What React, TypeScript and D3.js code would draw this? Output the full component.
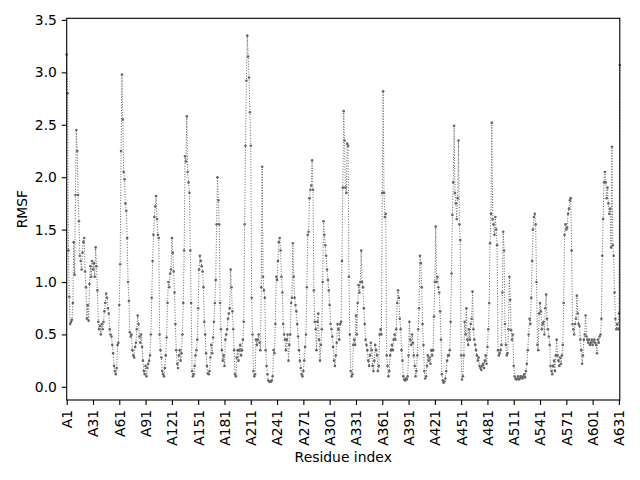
import React, { useEffect, useRef } from "react";
import * as d3 from "d3";

// RMSF per residue (residues 1..632)
const rmsf1to160 = [
  3.17, 2.8, 1.3, 0.86, 0.6, 0.62, 0.64, 0.8, 1.38, 1.07,
  1.83, 2.45, 2.25, 1.83, 1.58, 1.25, 1.2, 1.12, 1.28, 1.38,
  1.42, 1.1, 0.95, 0.65, 0.78, 0.63, 0.98, 1.15, 1.05, 1.2,
  1.12, 1.18, 1.05, 1.33, 1.15, 0.92, 0.62, 0.55, 0.58, 0.5,
  0.6, 0.55, 0.62, 0.72, 0.8, 0.89, 0.85, 0.75, 0.7, 0.55,
  0.5, 0.48, 0.4, 0.32, 0.2, 0.15, 0.12, 0.18, 0.4, 0.42,
  0.78, 1.17, 2.25, 2.98, 2.55, 2.05, 1.98, 1.75, 1.68, 1.42,
  1.0, 0.82, 0.52, 0.48, 0.5, 0.35, 0.3, 0.28, 0.38, 0.42,
  0.55, 0.68, 0.6, 0.48, 0.42, 0.5, 0.38, 0.25, 0.15, 0.12,
  0.2, 0.1, 0.18, 0.22, 0.25, 0.3, 0.5, 0.85, 1.2, 1.45,
  1.62, 1.72, 1.82, 1.6, 1.45, 1.42, 0.5, 0.35, 0.28, 0.15,
  0.12, 0.1, 0.18, 0.3, 0.47, 0.8, 1.0, 0.95, 1.08, 1.12,
  1.42, 1.28, 1.1, 0.9, 0.6, 0.35, 0.22, 0.18, 0.3, 0.35,
  0.25, 0.32, 0.5, 0.8, 1.3, 2.2, 2.15, 2.58, 2.05, 1.95,
  1.85, 1.3, 0.8, 0.15, 0.1, 0.12, 0.2, 0.3, 0.35, 0.45,
  0.75, 1.12, 1.25, 1.2, 1.15, 1.1, 0.95, 0.62, 0.5, 0.32,
];
const rmsf161to320 = [
  0.2, 0.13, 0.12, 0.15, 0.28, 0.4, 0.32, 0.47, 0.62, 0.8,
  1.02, 1.55, 2.0, 1.78, 1.55, 0.8, 0.55, 0.35, 0.25, 0.3,
  0.2, 0.45, 0.5, 0.55, 0.65, 0.7, 0.75, 1.12, 0.95, 0.72,
  0.55, 0.35, 0.12, 0.1, 0.28, 0.35, 0.25, 0.35, 0.4, 0.3,
  0.35, 0.45, 0.62, 1.55, 2.3, 2.92, 3.35, 3.15, 2.95, 2.62,
  2.3, 0.85, 0.5, 0.15, 0.1, 0.12, 0.45, 0.4, 0.45, 0.5,
  0.42, 0.35, 0.95, 2.1, 1.05, 0.92, 0.85, 0.35, 0.2, 0.12,
  0.06, 0.05, 0.05, 0.05, 0.06, 0.1, 0.35, 0.32, 0.6, 1.05,
  1.02, 1.2, 1.38, 1.42, 1.3, 1.05, 0.9, 0.6, 0.5, 0.45,
  0.35, 0.45, 0.5, 0.25, 0.4, 0.5, 0.8, 0.85, 1.37, 1.05,
  0.85, 0.78, 0.72, 0.6, 0.48, 0.35, 0.25, 0.18, 0.12, 0.1,
  0.15, 0.25, 0.38, 0.5, 0.95, 1.45, 1.48, 1.8, 1.88, 1.92,
  2.16, 1.88, 0.92, 0.62, 0.55, 0.35, 0.62, 0.7, 0.45, 0.25,
  0.4, 0.55, 1.0, 1.58, 1.45, 1.35, 1.25, 1.12, 1.02, 0.92,
  0.78, 0.6, 0.55, 0.48, 0.38, 0.25, 0.2, 0.3, 0.42, 0.6,
  0.55, 0.45, 0.6, 0.62, 1.2, 1.9, 2.63, 2.35, 1.9, 1.85,
];
const rmsf321to480 = [
  2.32, 2.3, 1.05, 0.5, 0.15, 0.1, 0.12, 0.4, 0.45, 0.4,
  0.68, 0.5, 0.8, 0.97, 0.9, 1.0, 1.3, 1.0, 0.95, 0.75,
  0.6, 0.45, 0.4, 0.35, 0.25, 0.2, 0.3, 0.42, 0.35, 0.2,
  0.15, 0.25, 0.4, 0.35, 0.3, 0.15, 0.2, 0.5, 0.55, 0.5,
  1.85, 2.82, 1.85, 1.62, 1.65, 0.3, 0.2, 0.1, 0.15, 0.3,
  0.35, 0.4, 0.35, 0.45, 0.5, 0.45, 0.55, 0.8, 0.92, 0.85,
  0.65, 0.55, 0.35, 0.25, 0.1, 0.07, 0.06, 0.08, 0.07, 0.1,
  0.3, 0.62, 0.45, 0.4, 0.5, 0.42, 0.3, 0.2, 0.1, 0.15,
  0.3, 0.55, 0.75, 1.25, 1.18, 0.95, 0.6, 0.4, 0.15, 0.08,
  0.1, 0.2, 0.3, 0.25, 0.28, 0.22, 0.35, 0.3, 0.35, 0.67,
  1.0, 1.53, 1.0, 1.05, 0.95, 0.9, 0.72, 0.45, 0.12, 0.06,
  0.04, 0.05, 0.08, 0.15, 0.25, 0.3, 0.3, 0.35, 0.62, 1.08,
  1.64, 1.95, 2.49, 1.85, 1.75, 1.6, 1.8, 2.35, 1.55, 1.4,
  0.3, 0.07, 0.1, 0.3, 0.62, 0.5, 0.75, 0.45, 0.4, 0.55,
  0.45, 0.6, 0.65, 0.91, 0.55, 0.45, 0.4, 0.35, 0.3, 0.25,
  0.28, 0.2, 0.18, 0.16, 0.2, 0.22, 0.18, 0.25, 0.3, 0.22,
];
const rmsf481to632 = [
  0.38, 0.55, 0.8, 1.37, 1.65, 2.52, 1.6, 1.55, 1.45, 1.62,
  1.5, 1.35, 0.35, 0.3, 0.32, 0.35, 0.4, 0.9, 1.48, 1.3,
  0.6, 0.4, 0.3, 0.32, 0.55, 1.05, 0.83, 0.54, 0.45, 0.5,
  0.2, 0.1, 0.08, 0.07, 0.08, 0.1, 0.07, 0.08, 0.1, 0.09,
  0.08, 0.1, 0.12, 0.09, 0.15, 0.22, 0.35, 0.5, 0.65, 0.6,
  0.85, 1.2, 1.5, 1.62, 1.65, 1.55, 1.0, 0.4, 0.35, 0.7,
  0.8, 0.72, 0.55, 0.6, 0.62, 0.5, 0.75, 0.88, 0.65, 0.55,
  0.48, 0.4, 0.2, 0.15, 0.12, 0.2, 0.25, 0.15, 0.3, 0.45,
  0.3, 0.25, 0.2, 0.28, 0.22, 0.3, 0.4, 0.8, 1.45, 1.55,
  1.5, 1.52, 1.65, 1.7, 1.78, 1.8, 1.3, 0.6, 0.55, 0.5,
  0.6, 0.65, 0.87, 0.7, 0.6, 0.58, 0.45, 0.35, 0.22, 0.3,
  0.45, 0.5, 0.68, 0.48, 0.45, 0.42, 0.45, 0.4, 0.42, 0.45,
  0.4, 0.43, 0.45, 0.42, 0.4, 0.32, 0.45, 0.42, 0.48, 0.5,
  0.65, 1.25, 1.6, 1.95, 2.05, 1.95, 1.8, 1.9, 1.75, 1.65,
  1.7, 1.33, 2.29, 1.35, 1.25, 0.9, 0.65, 0.55, 0.6, 0.55,
  0.7, 3.07,
];

const rmsf = [...rmsf1to160, ...rmsf161to320, ...rmsf321to480, ...rmsf481to632];
const residues = rmsf.map((_, i) => i + 1);

const xTickResidues = [
  1, 31, 61, 91, 121, 151, 181, 211, 241, 271, 301,
  331, 361, 391, 421, 451, 481, 511, 541, 571, 601, 631,
];
const yTicks = [0, 0.5, 1, 1.5, 2, 2.5, 3, 3.5];

const W = 640;
const H = 480;
const margin = { top: 18.3, right: 20.2, bottom: 80, left: 66.7 };
const FONT = "'DejaVu Sans', sans-serif";
const GREY = "#666666";

const RmsfChart: React.FC = () => {
  const svgRef = useRef<SVGSVGElement | null>(null);

  useEffect(() => {
    if (!svgRef.current) return;
    const svg = d3.select(svgRef.current);
    svg.selectAll("*").remove();

    const iw = W - margin.left - margin.right;
    const ih = H - margin.top - margin.bottom;

    // matplotlib-like 5% padding on y
    const lo = d3.min(rmsf) || 0;
    const hi = d3.max(rmsf) || 0;
    const pad = (hi - lo) * 0.05;

    const x = d3.scaleLinear().domain([1, rmsf.length]).range([0, iw]);
    const y = d3.scaleLinear().domain([lo - pad, hi + pad]).range([ih, 0]);

    const g = svg
      .append("g")
      .attr("transform", `translate(${margin.left},${margin.top})`);

    const line = d3
      .line<number>()
      .x((d, i) => x(residues[i]))
      .y((d) => y(d));

    g.append("path")
      .datum(rmsf)
      .attr("d", line)
      .attr("fill", "none")
      .attr("stroke", GREY)
      .attr("stroke-width", 1)
      .attr("stroke-dasharray", "1,1.65");

    g.selectAll("circle")
      .data(rmsf)
      .enter()
      .append("circle")
      .attr("cx", (d, i) => x(residues[i]))
      .attr("cy", (d) => y(d))
      .attr("r", 1.3)
      .attr("fill", GREY);

    // x axis
    const xAxis = g
      .append("g")
      .attr("transform", `translate(0,${ih})`)
      .call(
        d3
          .axisBottom(x)
          .tickValues(xTickResidues)
          .tickFormat((d) => `A${d}`)
          .tickSize(4.9)
      );
    xAxis.select(".domain").remove();
    xAxis.selectAll("line").attr("stroke", "#000").attr("stroke-width", 1.1);
    xAxis
      .selectAll("text")
      .attr("y", 0)
      .attr("x", -9.8)
      .attr("dy", "0.35em")
      .attr("transform", "rotate(-90)")
      .style("text-anchor", "end")
      .style("font-family", FONT)
      .style("font-size", "13.9px")
      .attr("fill", "#000");

    // y axis
    const yAxis = g
      .append("g")
      .call(
        d3
          .axisLeft(y)
          .tickValues(yTicks)
          .tickFormat(d3.format(".1f"))
          .tickSize(4.9)
          .tickPadding(4.9)
      );
    yAxis.select(".domain").remove();
    yAxis.selectAll("line").attr("stroke", "#000").attr("stroke-width", 1.1);
    yAxis
      .selectAll("text")
      .style("font-family", FONT)
      .style("font-size", "13.9px")
      .attr("fill", "#000");

    // frame
    g.append("rect")
      .attr("width", iw)
      .attr("height", ih)
      .attr("fill", "none")
      .attr("stroke", "#000")
      .attr("stroke-width", 1.1);

    // labels
    svg
      .append("text")
      .attr("x", margin.left + iw / 2)
      .attr("y", 462)
      .attr("text-anchor", "middle")
      .style("font-family", FONT)
      .style("font-size", "13.9px")
      .text("Residue index");

    svg
      .append("text")
      .attr("transform", `translate(27,${margin.top + ih / 2}) rotate(-90)`)
      .attr("text-anchor", "middle")
      .style("font-family", FONT)
      .style("font-size", "13.9px")
      .text("RMSF");
  }, []);

  return (
    <svg
      ref={svgRef}
      width={W}
      height={H}
      style={{ position: "absolute", left: 0, top: 0, background: "#fff" }}
    />
  );
};

export default function App() {
  return <RmsfChart />;
}
